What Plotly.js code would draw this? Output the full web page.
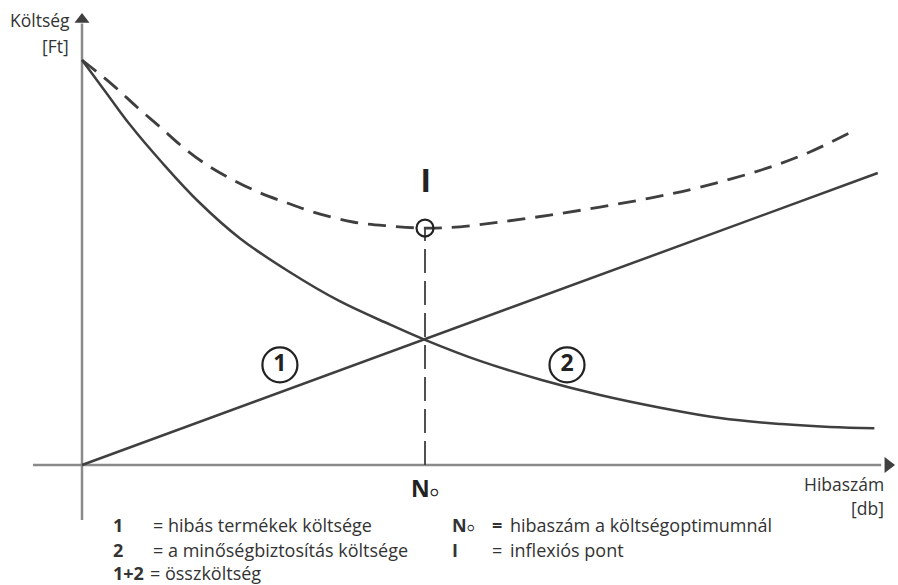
<!DOCTYPE html>
<html>
<head>
<meta charset="utf-8">
<script src="https://cdn.plot.ly/plotly-3.0.1.min.js"></script>
<style>
  html, body { margin: 0; padding: 0; background: #fff; }
  #chart { width: 898px; height: 585px; }
</style>
</head>
<body>
<div id="chart"></div>
<script>
// Values (arbitrary units, N0 = 10)

// 2 = minőségbiztosítás költsége (falling curve)
const qaX = [0, 0.7, 1.4, 2.3, 3.4, 4.6, 6.1, 7.5, 9, 10, 11.6, 13.4, 15.1, 16.9, 18.6, 20.4, 21.8, 23.1];
const qaY = [10, 9.2, 8.4, 7.5, 6.5, 5.6, 4.74, 4.05, 3.46, 3.09, 2.57, 2.1, 1.73, 1.41, 1.16, 1.01, 0.94, 0.91];

// 1 = hibás termékek költsége (straight line)
const defX = [0, 23.2];
const defY = [0, 7.21];

// 1+2 = összköltség (dashed)
const totalX = [0, 0.9, 1.6, 2.27, 2.94, 3.64, 4.4, 5.19, 5.98, 6.73, 7.9, 8.98, 10, 11.02, 12.19, 13.64, 15.1, 16.56, 18.02, 19.97, 21.22, 22.54];
const totalY = [10, 9.38, 8.84, 8.35, 7.85, 7.41, 7.04, 6.72, 6.47, 6.25, 6.0, 5.9, 5.85, 5.88, 6.0, 6.17, 6.37, 6.59, 6.86, 7.33, 7.73, 8.27];

// optimum
const optX = 10;
const optY = 5.85;

const LINE = '#3f3f3f';
const AXIS = '#8a8a8a';
const TEXT = '#333';
const FONT = '"Open Sans", Lato, sans-serif';

const W = 898, H = 585;
// pixel helpers for the text annotations
const px = (v) => v / W;
const py = (v) => 1 - v / H;

const traces = [
    {
        x: [0, 0], y: [-1.36, 10.9],
        mode: 'lines', line: {color: AXIS, width: 2.5}, hoverinfo: 'skip'
    },
    {
        x: [-1.43, 23.3], y: [0, 0],
        mode: 'lines', line: {color: AXIS, width: 2.5}, hoverinfo: 'skip'
    },
    {
        x: [0], y: [11.0],
        mode: 'markers', marker: {symbol: 'triangle-up', size: 13, color: LINE}, hoverinfo: 'skip'
    },
    {
        x: [23.5], y: [0],
        mode: 'markers', marker: {symbol: 'triangle-right', size: 14, color: LINE}, hoverinfo: 'skip'
    },
    {
        x: qaX, y: qaY, name: '2',
        mode: 'lines', line: {color: LINE, width: 2.5, shape: 'spline', smoothing: 1.1}
    },
    {
        x: defX, y: defY, name: '1',
        mode: 'lines', line: {color: LINE, width: 2.5}
    },
    {
        x: totalX, y: totalY, name: '1+2',
        mode: 'lines', line: {color: LINE, width: 2.8, dash: '18px,10px', shape: 'spline'}
    },
    {
        x: [optX, optX], y: [0, optY],
        mode: 'lines', line: {color: LINE, width: 1.8, dash: '24px,8px'}, hoverinfo: 'skip'
    },
    {
        x: [optX], y: [optY],
        mode: 'markers',
        marker: {symbol: 'circle-open', size: 17, color: '#222', line: {color: '#222', width: 2.2}}
    },
    {
        // circled curve labels
        x: [5.77, 14.14], y: [2.47, 2.47],
        mode: 'markers+text', text: ['<b>1</b>', '<b>2</b>'],
        textposition: 'middle center',
        textfont: {family: FONT, size: 23, color: '#222'},
        marker: {symbol: 'circle-open', size: 35, color: '#222', line: {color: '#222', width: 2.2}},
        hoverinfo: 'skip'
    }
];

const legendFont = {family: FONT, size: 18, color: TEXT};
const axisFont = {family: FONT, size: 17.5, color: TEXT};

function note(text, x, y, anchor, font) {
    return {
        text: text, xref: 'paper', yref: 'paper', x: px(x), y: py(y),
        xanchor: anchor, yanchor: 'middle', showarrow: false,
        font: font || legendFont
    };
}

const annotations = [
    note('Költség', 72, 20, 'right', axisFont),
    note('[Ft]', 71, 46, 'right', axisFont),
    note('Hibaszám', 886, 484, 'right', axisFont),
    note('[db]', 886, 508, 'right', axisFont),
    note('<b>I</b>', 425, 180, 'center', {family: 'Liberation Sans, Arial, sans-serif', size: 34, color: '#222'}),
    note('<b>N</b><span style="font-size:14px">○</span>', 425, 488, 'center', {family: FONT, size: 23, color: '#222'}),

    note('<b>1</b>', 111, 525, 'left'),
    note('= hibás termékek költsége', 151, 525, 'left'),
    note('<b>2</b>', 111, 550, 'left'),
    note('= a minőségbiztosítás költsége', 151, 550, 'left'),
    note('<b>1+2</b>', 111, 573, 'left'),
    note('= összköltség', 148, 573, 'left'),

    note('<b>N</b><span style="font-size:12px">○</span>', 450, 525, 'left'),
    note('<b>=</b>', 490, 525, 'left'),
    note('hibaszám a költségoptimumnál', 508, 525, 'left'),
    note('<b>I</b>', 450, 550, 'left'),
    note('=', 490, 550, 'left'),
    note('inflexiós pont', 508, 550, 'left')
];

const layout = {
    width: W,
    height: H,
    margin: {l: 0, r: 0, t: 0, b: 0, pad: 0},
    paper_bgcolor: '#fff',
    plot_bgcolor: '#fff',
    showlegend: false,
    xaxis: {
        range: [-82 / 34.3, 816 / 34.3],
        showgrid: false, zeroline: false, showticklabels: false, ticks: '', showline: false,
        fixedrange: true
    },
    yaxis: {
        range: [-120 / 40.5, 465 / 40.5],
        showgrid: false, zeroline: false, showticklabels: false, ticks: '', showline: false,
        fixedrange: true
    },
    annotations: annotations
};

Plotly.newPlot('chart', traces, layout, {displayModeBar: false, staticPlot: true});
</script>
</body>
</html>
